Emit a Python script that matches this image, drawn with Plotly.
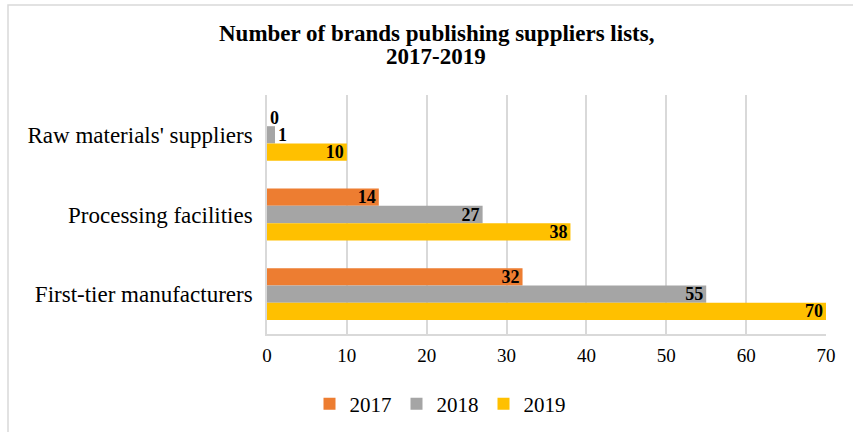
import plotly.graph_objects as go

categories = ["Raw materials' suppliers", "Processing facilities", "First-tier manufacturers"]
years = ["2017", "2018", "2019"]
values_2017 = [0, 14, 32]
values_2018 = [1, 27, 55]
values_2019 = [10, 38, 70]
x_ticks = [0, 10, 20, 30, 40, 50, 60, 70]
title_lines = ["Number of brands publishing suppliers lists,", "2017-2019"]

colors = {"2017": "#ED7D31", "2018": "#A5A5A5", "2019": "#FFC000"}
series = {"2017": values_2017, "2018": values_2018, "2019": values_2019}

W, H = 853, 432
ML, MR, MT, MB = 267, 27, 95, 98
PW, PH = W - ML - MR, H - MT - MB

serif = "Liberation Serif, Times New Roman, serif"


def px_to_paper_x(px):
    return (px - ML) / PW


def px_to_paper_y(py):
    return (H - MB - py) / PH


fig = go.Figure()
for yr in years:
    vals = series[yr]
    lab_font = dict(family=serif, size=18, color="black", weight="bold")
    fig.add_trace(go.Bar(
        name=yr,
        y=categories,
        x=vals,
        orientation="h",
        marker=dict(color=colors[yr], line=dict(width=0)),
        text=[str(v) for v in vals],
        textposition=["outside" if v < 5 else "inside" for v in vals],
        insidetextanchor="end",
        textangle=0,
        constraintext="none",
        textfont=lab_font,
        outsidetextfont=lab_font,
        insidetextfont=lab_font,
        cliponaxis=False,
    ))

# thin light frame around the chart area
fig.add_shape(type="rect", xref="paper", yref="paper",
              x0=px_to_paper_x(8), x1=px_to_paper_x(870),
              y0=px_to_paper_y(450), y1=px_to_paper_y(5),
              line=dict(color="#D9D9D9", width=1.5), fillcolor="rgba(0,0,0,0)",
              layer="below")

# two-line bold title, placed line by line for tight leading
for line, base_y in zip(title_lines, [33, 57]):
    fig.add_annotation(
        text="<b>%s</b>" % line, xref="paper", yref="paper",
        x=px_to_paper_x(436), y=px_to_paper_y(base_y),
        xanchor="center", yanchor="middle", showarrow=False,
        font=dict(family=serif, size=23, color="black"),
    )

fig.update_layout(
    width=W, height=H,
    margin=dict(l=ML, r=MR, t=MT, b=MB, autoexpand=False),
    paper_bgcolor="white", plot_bgcolor="white",
    barmode="group", bargap=0.35, bargroupgap=0,
    xaxis=dict(
        range=[0, 70], tickvals=x_ticks, ticktext=[str(t) for t in x_ticks],
        showgrid=True, gridcolor="#D9D9D9", gridwidth=1.5,
        zeroline=False, showline=True, linecolor="#D9D9D9", linewidth=1.5,
        ticks="", tickangle=0, ticklabelstandoff=3,
        tickfont=dict(family=serif, size=19, color="black"),
        automargin=False,
    ),
    yaxis=dict(
        categoryorder="array", categoryarray=categories, autorange="reversed",
        showgrid=False, showline=True, linecolor="#D9D9D9", linewidth=1.5,
        ticks="", ticklabelstandoff=8, automargin=False,
        tickfont=dict(family=serif, size=23, color="black"),
    ),
    legend=dict(
        orientation="h", xref="paper", x=px_to_paper_x(440), xanchor="center",
        yref="paper", y=px_to_paper_y(404), yanchor="middle",
        font=dict(family=serif, size=21, color="black"),
        traceorder="normal", itemwidth=30,
    ),
    showlegend=True,
)

fig.write_html("out.html")
